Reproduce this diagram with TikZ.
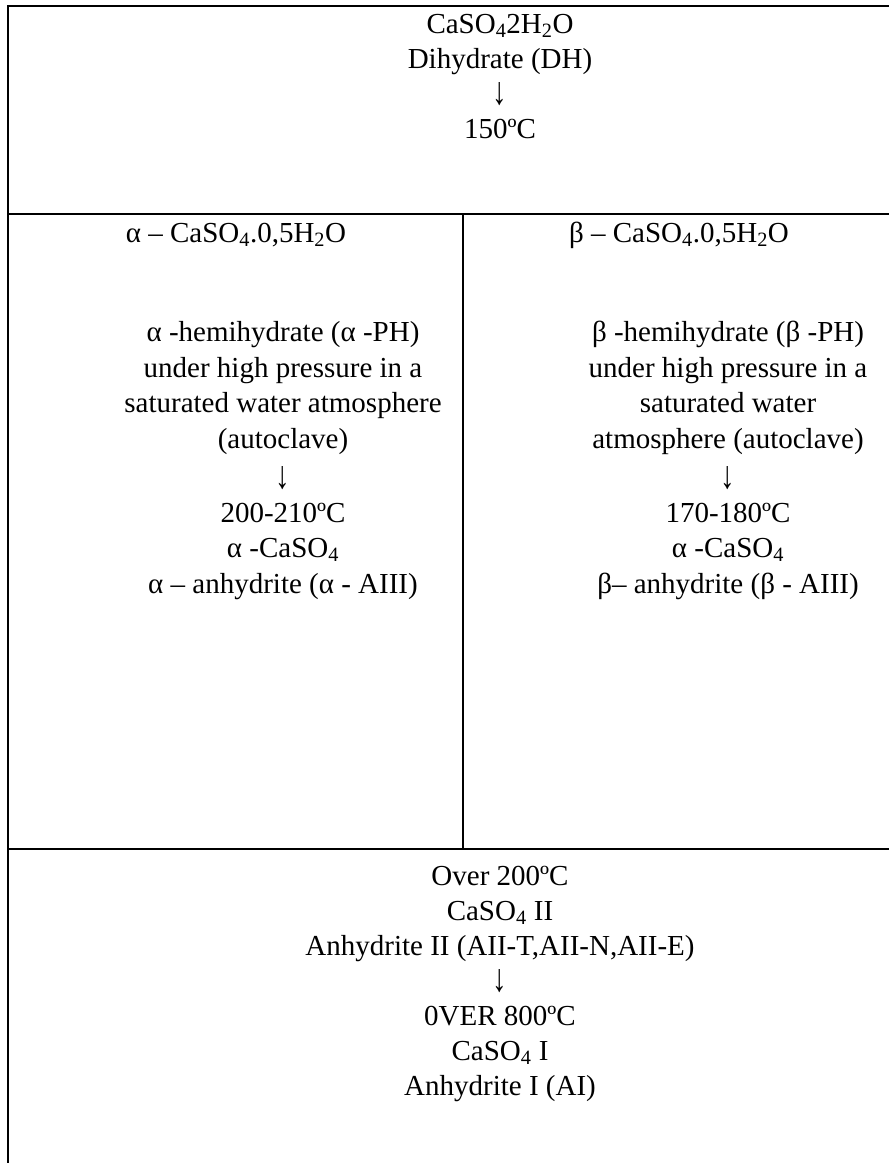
\documentclass[tikz,border=0pt]{standalone}
\usepackage{fontspec}
\setmainfont{Liberation Serif}
\newcommand{\sbs}[1]{\textsubscript{#1}}
\newcommand{\dnarrow}{\scalebox{1}[1.35]{↓}}
\begin{document}
\begin{tikzpicture}[x=1pt,y=-1pt,
  txt/.style={anchor=base, inner sep=0pt, font=\fontsize{29}{36}\selectfont},
  rule/.style={line width=2pt, black}]
\useasboundingbox (0,0) rectangle (889,1163);
% table rules
\draw[rule] (8,1163) -- (8,6) -- (889,6);
\draw[rule] (8,214) -- (889,214);
\draw[rule] (8,849) -- (889,849);
\draw[rule] (463,214) -- (463,849);
% top cell
\node[txt] (t1) at (500,33) {CaSO\sbs{4}2H\sbs{2}O};
\node[txt] (t2) at (500,68) {Dihydrate (DH)};
\node[txt] (t3) at (500,104) {\dnarrow};
\node[txt] (t4) at (500,138) {150ºC};
% left cell
\node[txt] (lh) at (236,242) {α – CaSO\sbs{4}.0,5H\sbs{2}O};
\node[txt] (l1) at (283,341) {α -hemihydrate (α -PH)};
\node[txt] (l2) at (283,377) {under high pressure in a};
\node[txt] (l3) at (283,412) {saturated water atmosphere};
\node[txt] (l4) at (283,448) {(autoclave)};
\node[txt] (l5) at (283,488) {\dnarrow};
\node[txt] (l6) at (283,522) {200-210ºC};
\node[txt] (l7) at (283,557) {α -CaSO\sbs{4}};
\node[txt] (l8) at (283,593) {α – anhydrite (α - AIII)};
% right cell
\node[txt] (rh) at (679,242) {β – CaSO\sbs{4}.0,5H\sbs{2}O};
\node[txt] (r1) at (728,341) {β -hemihydrate (β -PH)};
\node[txt] (r2) at (728,377) {under high pressure in a};
\node[txt] (r3) at (728,412) {saturated water};
\node[txt] (r4) at (728,448) {atmosphere (autoclave)};
\node[txt] (r5) at (728,488) {\dnarrow};
\node[txt] (r6) at (728,522) {170-180ºC};
\node[txt] (r7) at (728,557) {α -CaSO\sbs{4}};
\node[txt] (r8) at (728,593) {β– anhydrite (β - AIII)};
% bottom cell
\node[txt] (b1) at (500,885) {Over 200ºC};
\node[txt] (b2) at (500,920) {CaSO\sbs{4} II};
\node[txt] (b3) at (500,955) {Anhydrite II (AII-T,AII-N,AII-E)};
\node[txt] (b4) at (500,991) {\dnarrow};
\node[txt] (b5) at (500,1025) {0VER 800ºC};
\node[txt] (b6) at (500,1060) {CaSO\sbs{4} I};
\node[txt] (b7) at (500,1095) {Anhydrite I (AI)};
\end{tikzpicture}
\end{document}
